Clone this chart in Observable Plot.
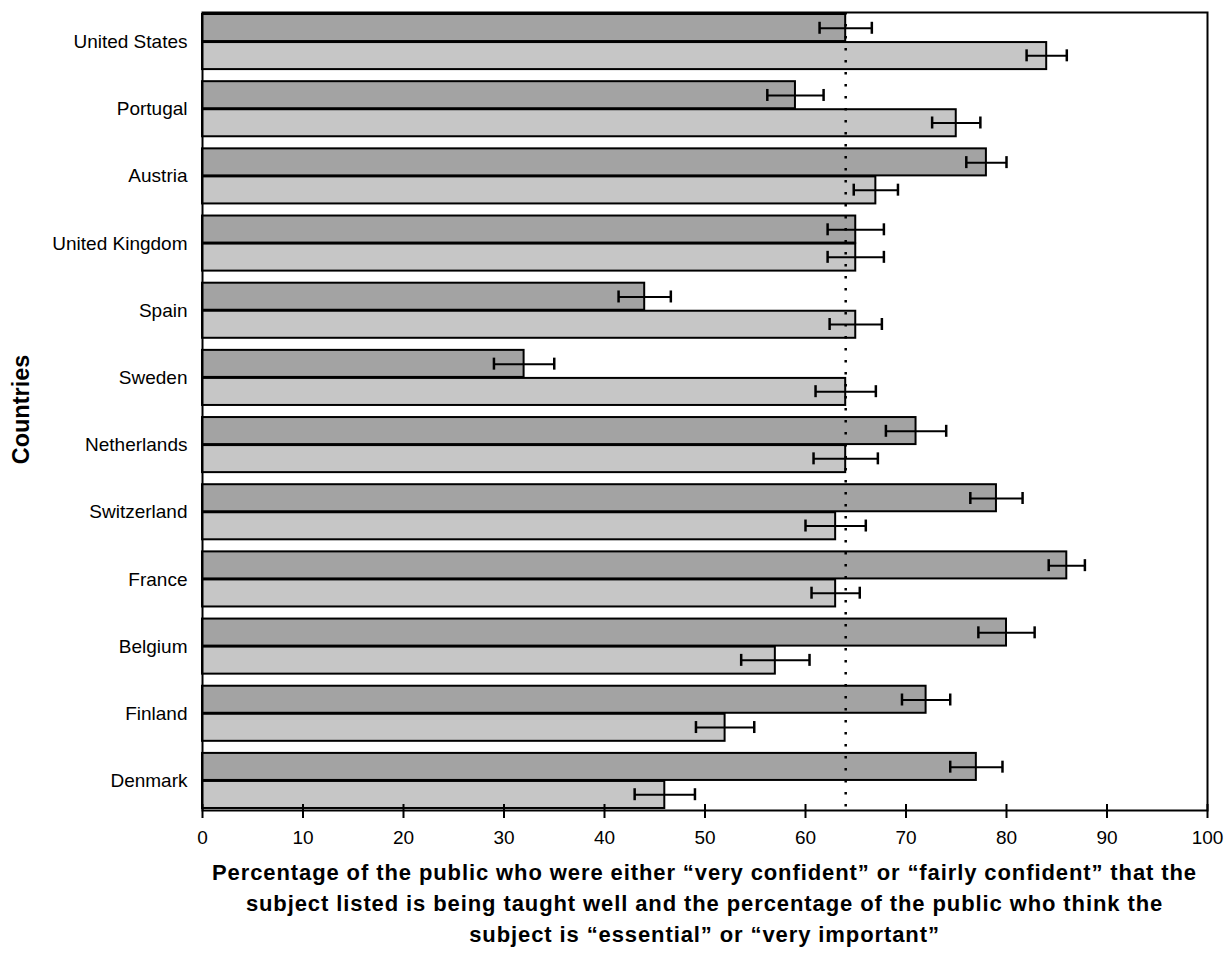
<!DOCTYPE html>
<html>
<head>
<meta charset="utf-8">
<script src="https://cdn.jsdelivr.net/npm/d3@7"></script>
<script src="https://cdn.jsdelivr.net/npm/@observablehq/plot@0.6"></script>
<style>
  html, body { margin: 0; padding: 0; background: #fff; }
  #chart { width: 1226px; font-family: "Liberation Sans", Arial, Helvetica, sans-serif; }
  #caption {
    width: 1005px; margin-left: 202px; text-align: center;
    font-weight: bold; font-size: 22px; letter-spacing: 0.9px; line-height: 31px; color: #000;
    padding-top: 5px;
  }
</style>
</head>
<body>
<div id="chart"></div>
<script>
const countries = ["United States", "Portugal", "Austria", "United Kingdom", "Spain", "Sweden",
  "Netherlands", "Switzerland", "France", "Belgium", "Finland", "Denmark"];
const confident = [64, 59, 78, 65, 44, 32, 71, 79, 86, 80, 72, 77];
const confidentErr = [2.6, 2.8, 2.0, 2.8, 2.6, 3.0, 3.0, 2.6, 1.8, 2.8, 2.4, 2.6];
const essential = [84, 75, 67, 65, 65, 64, 64, 63, 63, 57, 52, 46];
const essentialErr = [2.0, 2.4, 2.2, 2.8, 2.6, 3.0, 3.2, 3.0, 2.4, 3.4, 2.9, 3.0];
const referenceLine = [64];
const xTicks = [0, 10, 20, 30, 40, 50, 60, 70, 80, 90, 100];

const topData = countries.map((c, i) => ({country: c, value: confident[i], lo: confident[i] - confidentErr[i], hi: confident[i] + confidentErr[i]}));
const botData = countries.map((c, i) => ({country: c, value: essential[i], lo: essential[i] - essentialErr[i], hi: essential[i] + essentialErr[i]}));

const marginTop = 12, marginBottom = 42, plotH = 798;
const padIn = 0.18, padOut = 0.03;
const step = plotH / (countries.length - padIn + 2 * padOut);
const bw = step * (1 - padIn);
const half = bw / 2;
const q = bw / 4;
const capHalf = 6;

const font = "Liberation Sans, Arial, Helvetica, sans-serif";

const plot = Plot.plot({
  width: 1226,
  height: marginTop + plotH + marginBottom,
  marginTop, marginBottom,
  marginLeft: 202, marginRight: 19,
  style: {fontFamily: font, fontSize: "19px", color: "#000", background: "#fff"},
  x: {domain: [0, 100]},
  y: {domain: countries, paddingInner: padIn, paddingOuter: padOut, round: false},
  marks: [
    Plot.barX(topData, {y: "country", x: "value", fill: "#a3a3a3", stroke: "#000", strokeWidth: 2, insetBottom: half + 0.5}),
    Plot.barX(botData, {y: "country", x: "value", fill: "#c6c6c6", stroke: "#000", strokeWidth: 2, insetTop: half + 0.5}),
    Plot.ruleX(referenceLine, {stroke: "#000", strokeWidth: 2.5, strokeDasharray: "2.5,9.5"}),
    // error bars
    Plot.ruleY(topData, {y: "country", x1: "lo", x2: "hi", dy: -q, stroke: "#000", strokeWidth: 2}),
    Plot.ruleY(botData, {y: "country", x1: "lo", x2: "hi", dy: q, stroke: "#000", strokeWidth: 2}),
    Plot.tickX(topData, {y: "country", x: "lo", dy: -q, insetTop: half - capHalf, insetBottom: half - capHalf, stroke: "#000", strokeWidth: 2.5}),
    Plot.tickX(topData, {y: "country", x: "hi", dy: -q, insetTop: half - capHalf, insetBottom: half - capHalf, stroke: "#000", strokeWidth: 2.5}),
    Plot.tickX(botData, {y: "country", x: "lo", dy: q, insetTop: half - capHalf, insetBottom: half - capHalf, stroke: "#000", strokeWidth: 2.5}),
    Plot.tickX(botData, {y: "country", x: "hi", dy: q, insetTop: half - capHalf, insetBottom: half - capHalf, stroke: "#000", strokeWidth: 2.5}),
    Plot.frame({stroke: "#000", strokeWidth: 2}),
    // x axis ticks crossing the axis line
    Plot.ruleX(xTicks, {insetTop: plotH - 6, stroke: "#000", strokeWidth: 2}),
    Plot.axisX(xTicks, {anchor: "bottom", tickSize: 8, tickPadding: 12, strokeWidth: 2, fontSize: 19, label: null}),
    Plot.axisY({anchor: "left", tickSize: 0, tickPadding: 15, fontSize: 19, label: null}),
    Plot.text(["Countries"], {frameAnchor: "left", textAnchor: "middle", dx: -181, dy: -2, rotate: -90, fontWeight: "bold", fontSize: 23.5, fill: "#000"})
  ]
});

document.getElementById("chart").appendChild(plot);
const cap = document.createElement("div");
cap.id = "caption";
cap.innerHTML = "Percentage of the public who were either \u201cvery confident\u201d or \u201cfairly confident\u201d that the<br>subject listed is being taught well and the percentage of the public who think the<br>subject is \u201cessential\u201d or \u201cvery important\u201d";
document.getElementById("chart").appendChild(cap);
</script>
</body>
</html>
